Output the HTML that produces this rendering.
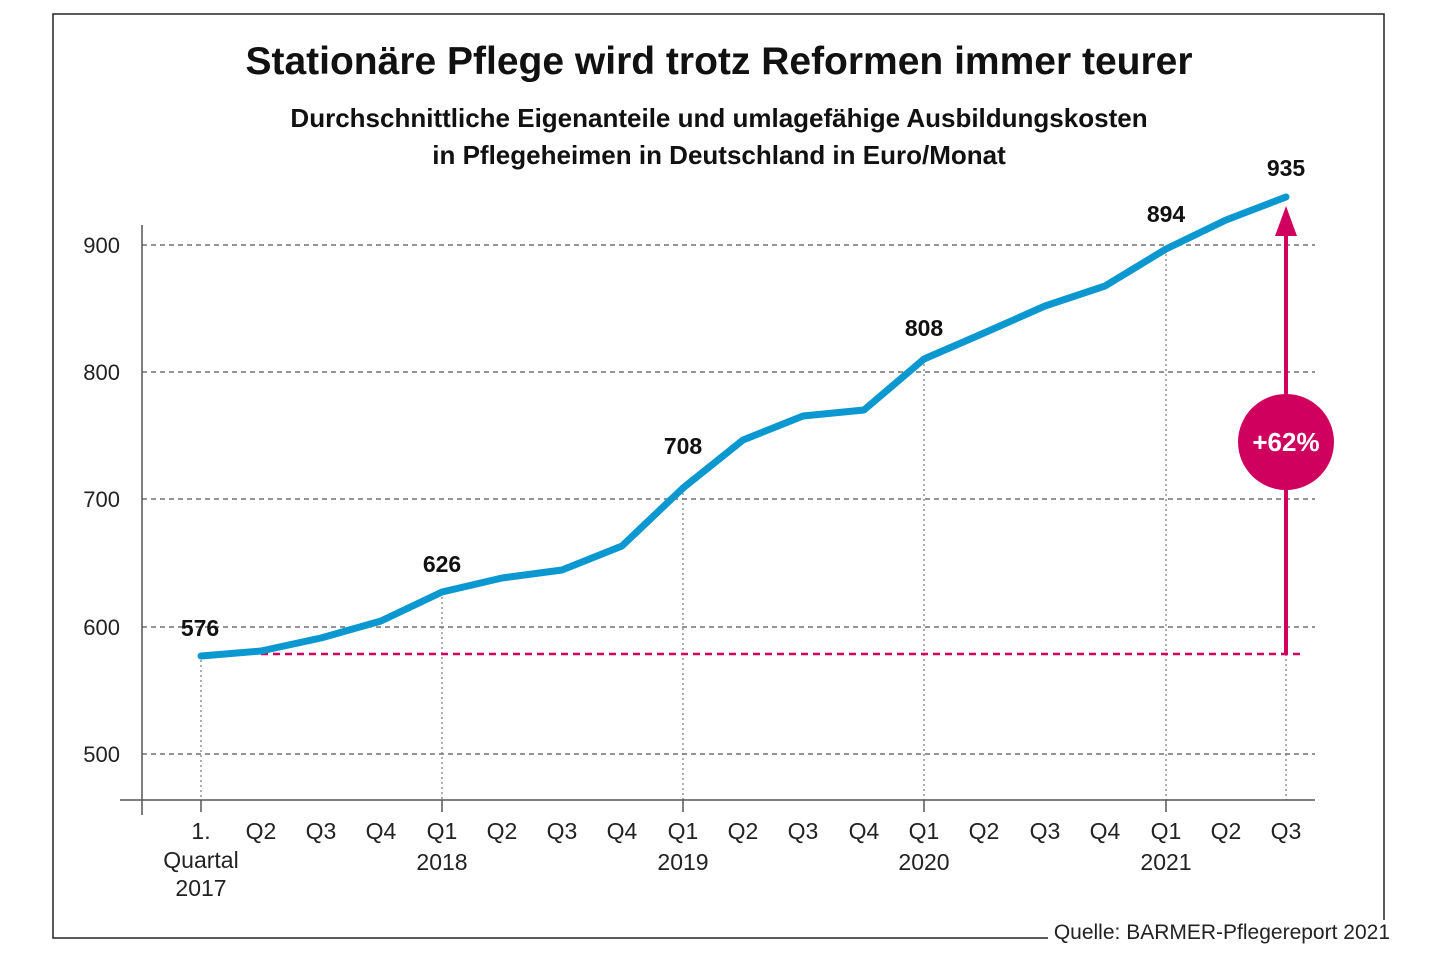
<!DOCTYPE html>
<html><head><meta charset="utf-8"><style>
html,body{margin:0;padding:0;background:#fff;}
svg{display:block;font-family:"Liberation Sans",sans-serif;}
</style></head><body>
<svg width="1440" height="960" viewBox="0 0 1440 960">
<rect width="1440" height="960" fill="#fff"/>
<path d="M1048 938 H53 V14 H1384 V920" fill="none" stroke="#222" stroke-width="1.5"/>
<text x="719" y="74" text-anchor="middle" font-size="39" font-weight="bold" fill="#111">Stationäre Pflege wird trotz Reformen immer teurer</text>
<text x="719" y="127" text-anchor="middle" font-size="26" font-weight="bold" fill="#111">Durchschnittliche Eigenanteile und umlagefähige Ausbildungskosten</text>
<text x="719" y="164" text-anchor="middle" font-size="26" font-weight="bold" fill="#111">in Pflegeheimen in Deutschland in Euro/Monat</text>
<g stroke="#555" stroke-width="1.2" stroke-dasharray="5,4">
<line x1="142" y1="245" x2="1315" y2="245"/><line x1="142" y1="372" x2="1315" y2="372"/>
<line x1="142" y1="499" x2="1315" y2="499"/><line x1="142" y1="627" x2="1315" y2="627"/>
<line x1="142" y1="754" x2="1315" y2="754"/></g>
<g font-size="22" fill="#222" text-anchor="end">
<text x="120" y="253">900</text><text x="120" y="380">800</text><text x="120" y="507">700</text><text x="120" y="635">600</text><text x="120" y="762">500</text></g>
<g stroke="#777" stroke-width="1.2" stroke-dasharray="2,3">
<line x1="201" y1="660" x2="201" y2="800"/><line x1="442" y1="592" x2="442" y2="800"/>
<line x1="683" y1="488" x2="683" y2="800"/><line x1="924" y1="359" x2="924" y2="800"/>
<line x1="1166" y1="249" x2="1166" y2="800"/><line x1="1286" y1="654" x2="1286" y2="800"/></g>
<line x1="142" y1="225" x2="142" y2="815" stroke="#555" stroke-width="1.5"/>
<line x1="120" y1="800" x2="1315" y2="800" stroke="#555" stroke-width="1.5"/>
<g stroke="#555" stroke-width="1.5">
<line x1="201" y1="800" x2="201" y2="812"/><line x1="442" y1="800" x2="442" y2="812"/><line x1="683" y1="800" x2="683" y2="812"/><line x1="924" y1="800" x2="924" y2="812"/><line x1="1166" y1="800" x2="1166" y2="812"/></g>
<line x1="261" y1="654" x2="1300" y2="654" stroke="#d0005f" stroke-width="2.5" stroke-dasharray="7,5"/>
<line x1="1286" y1="654" x2="1286" y2="232" stroke="#d0005f" stroke-width="4"/>
<polygon points="1286,206 1275,236 1297,236" fill="#d0005f"/>
<circle cx="1286" cy="442" r="48" fill="#d0005f"/>
<text x="1286" y="451" text-anchor="middle" font-size="26" font-weight="bold" fill="#fff">+62%</text>
<polyline fill="none" stroke="#0b97cf" stroke-width="7" stroke-linejoin="round" stroke-linecap="round" points="201,656 261,651 321,638 381,621 442,592 502,578 562,570 622,546 683,488 743,440 803,416 864,410 924,359 984,333 1045,306 1105,286 1166,249 1226,220 1286,197"/>
<g font-size="23" font-weight="bold" fill="#111" text-anchor="middle">
<text x="200" y="636">576</text><text x="442" y="572">626</text><text x="683" y="454">708</text><text x="924" y="336">808</text><text x="1166" y="222">894</text><text x="1286" y="176">935</text></g>
<g font-size="23" fill="#222" text-anchor="middle">
<text x="201" y="839">1.</text><text x="261" y="839">Q2</text><text x="321" y="839">Q3</text><text x="381" y="839">Q4</text>
<text x="442" y="839">Q1</text><text x="502" y="839">Q2</text><text x="562" y="839">Q3</text><text x="622" y="839">Q4</text>
<text x="683" y="839">Q1</text><text x="743" y="839">Q2</text><text x="803" y="839">Q3</text><text x="864" y="839">Q4</text>
<text x="924" y="839">Q1</text><text x="984" y="839">Q2</text><text x="1045" y="839">Q3</text><text x="1105" y="839">Q4</text>
<text x="1166" y="839">Q1</text><text x="1226" y="839">Q2</text><text x="1286" y="839">Q3</text>
<text x="201" y="868">Quartal</text><text x="201" y="896">2017</text>
<text x="442" y="870">2018</text><text x="683" y="870">2019</text><text x="924" y="870">2020</text><text x="1166" y="870">2021</text></g>
<text x="1390" y="939" text-anchor="end" font-size="21" fill="#222">Quelle: BARMER-Pflegereport 2021</text>
</svg>
</body></html>
